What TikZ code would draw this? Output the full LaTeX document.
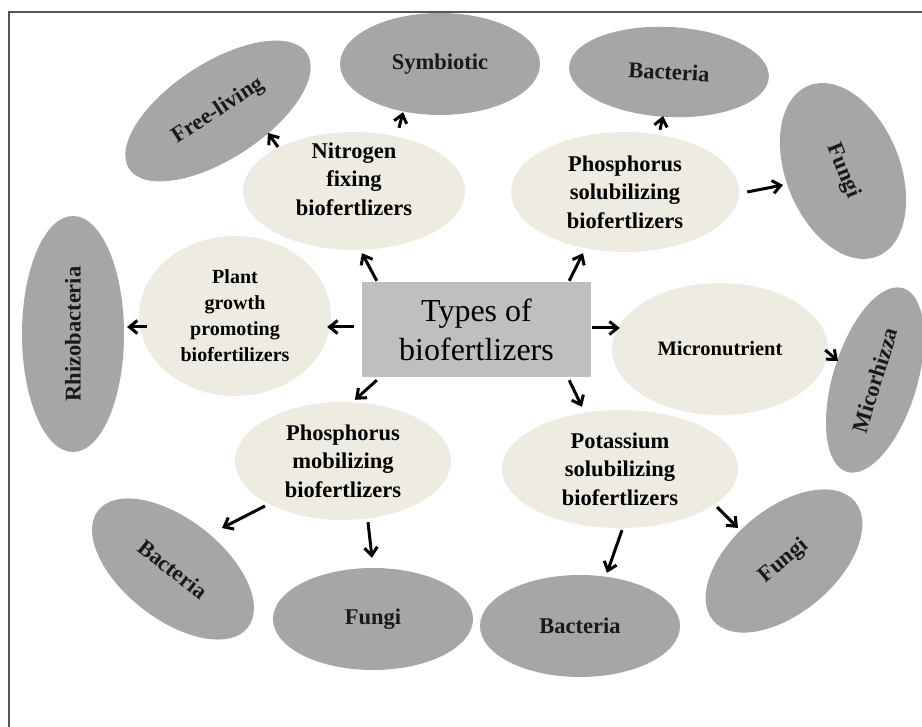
\documentclass[tikz,border=0pt]{standalone}
\usepackage{fontspec}
\setmainfont{Liberation Serif}
\usetikzlibrary{shapes.geometric, arrows.meta}
\definecolor{boxgray}{HTML}{BFBFBF}
\definecolor{cream}{HTML}{EEECE1}
\definecolor{leafgray}{HTML}{A6A6A6}
\definecolor{framegray}{HTML}{555555}

\begin{document}
\begin{tikzpicture}[x=1pt, y=-1pt,
    grouptext/.style={align=center, font=\fontsize{22.5}{28.5}\selectfont\bfseries},
    group/.style={ellipse, fill=cream, inner sep=0pt, grouptext},
    leaf/.style={ellipse, fill=leafgray, inner sep=0pt, text=black!90, font=\fontsize{22.5}{26}\selectfont\bfseries},
    arr/.style={-{Straight Barb[length=8pt,width=13pt]}, line width=3pt}]
    \useasboundingbox (0,0) rectangle (922,727);

    % frame
    \draw[framegray, line width=1.5pt] (9,727) -- (9,12) -- (922,12);

    % centre
    \node[rectangle, fill=boxgray, minimum width=229, minimum height=95, align=center,
          font=\fontsize{32}{39}\selectfont] (types) at (476.5,329.5) {Types of\\biofertlizers};

    % groups
    \node[group, minimum width=222, minimum height=118,
          label={[grouptext, yshift=12pt]center:Nitrogen\\fixing\\biofertlizers}] (nitrogen) at (354,191) {};
    \node[group, minimum width=228, minimum height=120] (phsol) at (625,192) {Phosphorus\\solubilizing\\biofertlizers};
    \node[group, minimum width=192, minimum height=160, font=\fontsize{20}{26}\selectfont\bfseries] (plant) at (235,316) {Plant\\growth\\promoting\\biofertilizers};
    \node[group, minimum width=216, minimum height=132, font=\fontsize{20.5}{26}\selectfont\bfseries] (micro) at (720,349) {Micronutrient};
    \node[group, minimum width=216, minimum height=118] (phmob) at (343,461) {Phosphorus\\mobilizing\\biofertlizers};
    \node[group, minimum width=236, minimum height=118] (potas) at (620,469) {Potassium\\solubilizing\\biofertlizers};

    % leaves
    \node[leaf, rotate=33, minimum width=212, minimum height=96] (free) at (218,111) {Free-living};
    \node[leaf, minimum width=200, minimum height=102] (symb) at (440,64) {Symbiotic};
    \node[leaf, rotate=-3, minimum width=200, minimum height=90] (bactop) at (669,72) {Bacteria};
    \node[leaf, rotate=-68, minimum width=184, minimum height=114] (fungtop) at (843,171) {Fungi};
    \node[leaf, rotate=90, minimum width=236, minimum height=102] (rhizo) at (73,334) {Rhizobacteria};
    \node[leaf, rotate=73, minimum width=192, minimum height=84] (micor) at (875,380) {Micorhizza};
    \node[leaf, rotate=-38, minimum width=190, minimum height=100] (bacbl) at (173,569) {Bacteria};
    \node[leaf, minimum width=200, minimum height=102] (fungbot) at (373,619) {Fungi};
    \node[leaf, minimum width=200, minimum height=102] (bacbot) at (580,626) {Bacteria};
    \node[leaf, rotate=40, minimum width=185, minimum height=104] (fungbr) at (784,561) {Fungi};

    % arrows from the centre
    \draw[arr] ([shift={(15,-1)}]types.north west) -- ([shift={(8,3)}]nitrogen.south);
    \draw[arr] ([shift={(-22,-1)}]types.north east) -- ([shift={(-42,1)}]phsol.south);
    \draw[arr] ([shift={(-8,-2.5)}]types.west) -- ([shift={(-4,11)}]plant.east);
    \draw[arr] ([shift={(1,-1.5)}]types.east) -- ([shift={(8,-21)}]micro.west);
    \draw[arr] ([shift={(15,3)}]types.south west) -- ([shift={(12,-2)}]phmob.north);
    \draw[arr] ([shift={(-22,3)}]types.south east) -- ([shift={(-38,-3)}]potas.north);

    % arrows to the leaves
    \draw[arr] ([shift={(-76,-44)}]nitrogen.center) -- ([shift={(50,22)}]free.center);
    \draw[arr] ([shift={(45,-4)}]nitrogen.north) -- ([shift={(-37,-3)}]symb.south);
    \draw[arr] ([shift={(35,-2)}]phsol.north) -- ([shift={(-6,44)}]bactop.center);
    \draw[arr] ([shift={(8,0)}]phsol.east) -- ([shift={(-60,14)}]fungtop.center);
    \draw[arr] ([shift={(8,11)}]plant.west) -- ([shift={(54,-7)}]rhizo.center);
    \draw[arr] ([shift={(-3,1)}]micro.east) -- ([shift={(-37,-19)}]micor.center);
    \draw[arr] ([shift={(-78,45)}]phmob.center) -- ([shift={(49,-41)}]bacbl.center);
    \draw[arr] ([shift={(25,2)}]phmob.south) -- ([shift={(-1,-10)}]fungbot.north);
    \draw[arr] ([shift={(2,2)}]potas.south) -- ([shift={(27,-2)}]bacbot.north);
    \draw[arr] ([shift={(97,38)}]potas.center) -- ([shift={(-46,-33)}]fungbr.center);
\end{tikzpicture}
\end{document}
